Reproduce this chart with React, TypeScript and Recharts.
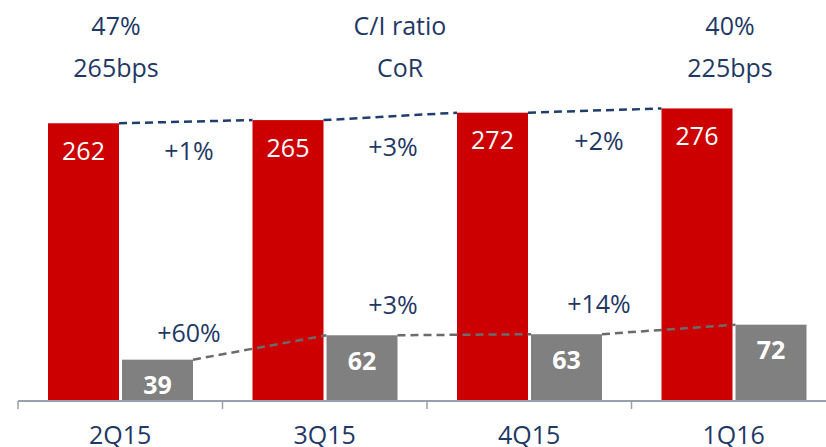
import React from 'react';
import { BarChart, Bar, XAxis, YAxis, LabelList } from 'recharts';

// quarters and values
const quarters = ['2Q15', '3Q15', '4Q15', '1Q16'];
const revenue = [262, 265, 272, 276];
const costOfRisk = [39, 62, 63, 72];
const revenueGrowth = ['+1%', '+3%', '+2%'];
const corGrowth = ['+60%', '+3%', '+14%'];

const headerLeft = ['47%', '265bps'];
const headerMid = ['C/I ratio', 'CoR'];
const headerRight = ['40%', '225bps'];

const chartData = quarters.map((q, i) => ({ name: q, revenue: revenue[i], cor: costOfRisk[i] }));

const W = 840;
const H = 447;
const MARGIN = { top: 30, right: 4, bottom: 0, left: 18 };
const BAND = (W - MARGIN.left - MARGIN.right) / quarters.length;

const NAVY = '#1f3864';
const RED = '#cc0000';
const GREY = '#808080';
const AXIS = '#98a0ae';
const FONT = '"Open Sans", "DejaVu Sans", sans-serif';
const FS = 25;

// bar + dashed connector to the next bar's top-left corner
const makeShape = (values: number[], color: string, dash: string) => (props: any) => {
  const { x, y, width, height, index } = props;
  const bottom = y + height;
  const perUnit = height / values[index];
  const next = values[index + 1];
  return (
    <g>
      <rect x={x} y={y} width={width} height={height} fill={color} />
      {next !== undefined && (
        <line
          x1={x + width}
          y1={y}
          x2={x + BAND}
          y2={bottom - next * perUnit}
          stroke={dash}
          strokeWidth={2.5}
          strokeDasharray="8 5"
        />
      )}
    </g>
  );
};

const RedShape = makeShape(revenue, RED, '#1f3d6e');
const GreyShape = makeShape(costOfRisk, GREY, '#6b6b6b');

const QuarterTick = (props: any) => {
  const { x, y, payload } = props;
  const left = x - BAND / 2;
  return (
    <g>
      <line x1={left} y1={y} x2={left} y2={y + 8} stroke={AXIS} strokeWidth={1.5} />
      <text x={x} y={y} dy={42.5} textAnchor="middle" fill={NAVY} fontSize={FS} fontFamily={FONT}>
        {payload.value}
      </text>
    </g>
  );
};

const Note = ({ x, y, text }: { x: number; y: number; text: string }) => (
  <div
    style={{
      position: 'absolute',
      left: x,
      top: y,
      transform: 'translate(-50%, -50%)',
      whiteSpace: 'nowrap',
      fontFamily: FONT,
      fontSize: FS,
      lineHeight: 1,
      color: NAVY,
    }}
  >
    {text}
  </div>
);

// annotation anchors (text centres)
const headerX = [116, 400, 730];
const headerY = [25, 67];
const growthX = [189, 393, 599];
const revGrowthY = [150, 146, 140];
const corGrowthY = [332, 304, 303];

export default function App() {
  const headers = [headerLeft, headerMid, headerRight];
  return (
    <div style={{ position: 'absolute', left: 0, top: 0, width: 826, height: 447, overflow: 'hidden', background: '#fff' }}>
      <BarChart width={W} height={H} data={chartData} margin={MARGIN} barCategoryGap={30} barGap={3}>
        <XAxis
          dataKey="name"
          height={46}
          axisLine={{ stroke: AXIS, strokeWidth: 2 }}
          tickLine={false}
          tickSize={0}
          tickMargin={0}
          tick={<QuarterTick />}
          interval={0}
        />
        <YAxis hide domain={[0, 350]} />
        <Bar dataKey="revenue" shape={RedShape} isAnimationActive={false}>
          <LabelList dataKey="revenue" position="insideTop" offset={19} fill="#fff" fontSize={FS} fontFamily={FONT} />
        </Bar>
        <Bar dataKey="cor" shape={GreyShape} isAnimationActive={false}>
          <LabelList dataKey="cor" position="insideTop" offset={17} fill="#fff" fontSize={FS} fontWeight="bold" fontFamily={FONT} />
        </Bar>
      </BarChart>
      {headers.map((h, i) =>
        h.map((t, j) => <Note key={`h${i}${j}`} x={headerX[i]} y={headerY[j]} text={t} />)
      )}
      {revenueGrowth.map((t, i) => (
        <Note key={`r${i}`} x={growthX[i]} y={revGrowthY[i]} text={t} />
      ))}
      {corGrowth.map((t, i) => (
        <Note key={`c${i}`} x={growthX[i]} y={corGrowthY[i]} text={t} />
      ))}
    </div>
  );
}
